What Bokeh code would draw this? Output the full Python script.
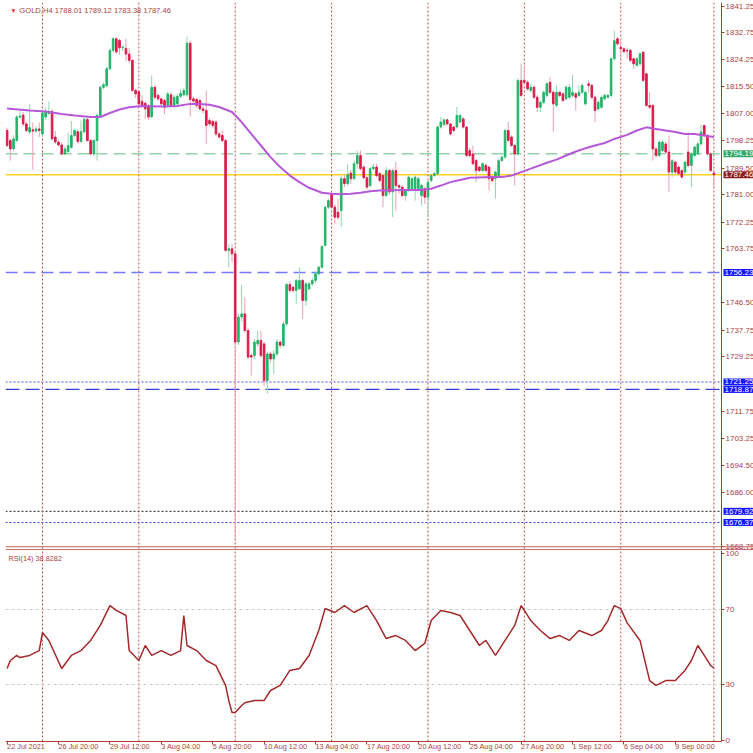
import numpy as np
from bokeh.plotting import figure
from bokeh.models import ColumnDataSource, Range1d, FixedTicker, Span, Label
from bokeh.layouts import column
from bokeh.embed import file_html
from bokeh.resources import INLINE

# ---------------- data ----------------
open_ = [1801.6, 1798.4, 1795.7, 1798.4, 1805.9, 1806.5, 1803.7, 1801.1, 1801.8, 1801.4,
         1802.1, 1800.5, 1805.9, 1807.0, 1807.7, 1799.5, 1797.9, 1797.0, 1794.1, 1794.9,
         1796.2, 1800.0, 1801.2, 1798.1, 1801.2, 1805.1, 1798.4, 1794.1, 1798.4, 1806.4,
         1815.4, 1815.9, 1821.3, 1827.2, 1830.9, 1830.4, 1828.0, 1827.8, 1826.0, 1824.0,
         1814.4, 1814.0, 1810.9, 1810.3, 1809.6, 1806.0, 1815.4, 1812.8, 1811.7, 1811.2,
         1809.6, 1813.0, 1809.6, 1810.1, 1812.5, 1813.0, 1813.0, 1829.5, 1811.7, 1811.5,
         1811.2, 1808.5, 1808.0, 1804.8, 1804.5, 1804.3, 1800.5, 1800.0, 1798.4, 1763.3,
         1763.8, 1762.2, 1734.0, 1742.0, 1743.0, 1737.7, 1729.7, 1729.7, 1733.4, 1734.5,
         1733.4, 1721.7, 1730.2, 1728.6, 1730.2, 1734.0, 1732.9, 1739.8, 1752.4, 1751.5,
         1750.5, 1751.0, 1753.7, 1747.3, 1751.0, 1752.6, 1753.7, 1755.8, 1757.9, 1764.9,
         1777.1, 1781.4, 1777.1, 1775.5, 1776.0, 1786.2, 1784.6, 1788.0, 1786.2, 1791.0,
         1793.6, 1789.9, 1786.5, 1784.0, 1789.4, 1789.9, 1787.8, 1787.2, 1780.8, 1788.8,
         1782.0, 1788.8, 1784.0, 1783.5, 1780.8, 1782.4, 1783.0, 1783.0, 1783.0, 1780.8,
         1783.0, 1780.3, 1785.6, 1787.2, 1787.8, 1802.7, 1803.5, 1805.0, 1803.7, 1802.7,
         1802.7, 1804.3, 1805.3, 1802.7, 1795.2, 1794.1, 1792.0, 1789.9, 1788.8, 1790.5,
         1789.9, 1786.7, 1786.2, 1787.2, 1792.0, 1793.1, 1801.6, 1799.5, 1796.8, 1794.1,
         1817.6, 1817.6, 1817.0, 1814.4, 1815.4, 1812.2, 1809.0, 1810.6, 1812.8, 1817.0,
         1813.8, 1809.6, 1813.8, 1813.3, 1811.7, 1812.2, 1812.8, 1813.3, 1812.8, 1813.8,
         1810.1, 1816.5, 1816.0, 1812.2, 1808.5, 1809.0, 1811.7, 1812.2, 1812.8, 1824.5,
         1830.9, 1828.2, 1827.7, 1827.2, 1827.2, 1824.5, 1822.4, 1822.9, 1826.6, 1819.7,
         1809.6, 1809.6, 1795.7, 1793.6, 1795.2, 1797.3, 1794.7, 1788.3, 1791.5, 1789.9,
         1788.8, 1788.3, 1794.7, 1790.4, 1793.6, 1794.1, 1797.3, 1803.2, 1800.0, 1794.1,
         1788.01]
high = [1802.5, 1799.0, 1800.0, 1806.5, 1808.0, 1807.5, 1804.5, 1810.0, 1804.2, 1803.0,
        1804.2, 1808.0, 1809.0, 1810.9, 1808.5, 1801.5, 1798.5, 1797.8, 1796.5, 1800.8,
        1804.6, 1802.2, 1802.0, 1804.8, 1805.8, 1805.6, 1799.0, 1799.0, 1807.0, 1816.0,
        1817.0, 1822.0, 1828.0, 1831.5, 1831.3, 1830.9, 1828.7, 1830.9, 1827.9, 1824.5,
        1815.0, 1814.5, 1812.8, 1810.8, 1810.0, 1819.2, 1816.0, 1813.5, 1812.0, 1811.8,
        1814.0, 1813.8, 1813.0, 1813.3, 1814.8, 1815.2, 1831.6, 1830.2, 1812.5, 1812.0,
        1811.5, 1809.5, 1814.4, 1805.5, 1805.0, 1804.8, 1801.2, 1801.6, 1799.0, 1765.4,
        1765.4, 1763.0, 1743.0, 1752.1, 1748.3, 1738.5, 1730.5, 1735.0, 1737.7, 1737.7,
        1734.0, 1731.0, 1731.0, 1731.5, 1735.0, 1734.5, 1740.5, 1753.0, 1753.5, 1752.0,
        1754.2, 1757.9, 1754.2, 1753.2, 1753.2, 1754.5, 1756.5, 1758.5, 1765.0, 1777.5,
        1779.8, 1781.9, 1778.0, 1779.7, 1787.0, 1787.5, 1791.0, 1789.0, 1792.0, 1795.2,
        1795.2, 1790.5, 1787.0, 1790.0, 1791.0, 1791.0, 1788.3, 1787.8, 1790.0, 1789.4,
        1789.4, 1791.5, 1784.6, 1784.0, 1783.0, 1787.2, 1786.7, 1787.2, 1786.8, 1784.6,
        1783.5, 1785.6, 1787.8, 1788.5, 1803.2, 1805.9, 1805.3, 1805.3, 1804.0, 1803.0,
        1809.1, 1807.0, 1806.0, 1803.0, 1796.0, 1796.8, 1792.5, 1790.3, 1791.5, 1791.0,
        1790.3, 1787.0, 1788.8, 1792.5, 1793.6, 1802.0, 1804.3, 1800.0, 1797.3, 1818.2,
        1822.9, 1822.4, 1817.6, 1816.5, 1816.0, 1812.8, 1811.2, 1814.4, 1817.0, 1818.6,
        1814.4, 1816.0, 1814.2, 1813.8, 1816.0, 1816.5, 1819.4, 1813.8, 1816.0, 1816.5,
        1814.4, 1817.6, 1816.5, 1812.8, 1811.2, 1812.8, 1813.3, 1813.3, 1825.0, 1833.5,
        1831.5, 1830.9, 1828.2, 1828.0, 1827.7, 1825.0, 1825.0, 1826.6, 1827.0, 1820.0,
        1813.8, 1810.0, 1796.3, 1798.4, 1798.5, 1797.9, 1800.0, 1792.5, 1792.0, 1790.4,
        1789.4, 1792.0, 1801.1, 1794.7, 1796.8, 1798.0, 1803.4, 1803.4, 1800.5, 1794.7,
        1789.12]
low = [1796.3, 1792.0, 1795.2, 1798.0, 1805.3, 1803.0, 1801.0, 1800.5, 1789.1, 1800.8,
       1799.5, 1799.8, 1805.0, 1806.5, 1798.5, 1797.3, 1796.5, 1793.8, 1793.8, 1794.2,
       1795.8, 1799.5, 1797.5, 1797.6, 1800.6, 1798.0, 1793.7, 1793.5, 1792.0, 1805.8,
       1814.8, 1815.4, 1820.8, 1826.5, 1826.0, 1825.8, 1827.0, 1823.6, 1823.0, 1814.0,
       1812.0, 1809.6, 1809.0, 1805.3, 1805.0, 1805.5, 1811.5, 1811.0, 1809.5, 1806.9,
       1809.0, 1809.0, 1809.0, 1809.6, 1812.0, 1812.5, 1812.4, 1806.0, 1810.0, 1808.8,
       1808.0, 1807.0, 1797.3, 1803.0, 1802.5, 1799.8, 1799.0, 1797.8, 1762.8, 1757.9,
       1759.5, 1671.0, 1733.0, 1740.5, 1737.0, 1728.6, 1723.3, 1728.6, 1732.5, 1729.0,
       1720.0, 1717.5, 1727.5, 1723.8, 1729.5, 1732.0, 1732.5, 1739.0, 1749.8, 1749.8,
       1746.2, 1750.5, 1741.4, 1745.5, 1750.5, 1752.0, 1753.0, 1755.0, 1757.5, 1764.5,
       1776.5, 1776.5, 1771.8, 1773.0, 1770.7, 1783.5, 1784.0, 1784.5, 1786.0, 1789.4,
       1788.8, 1786.0, 1782.8, 1783.5, 1788.8, 1786.7, 1785.0, 1777.1, 1780.3, 1781.0,
       1773.9, 1776.0, 1781.4, 1780.3, 1779.2, 1782.0, 1782.5, 1779.2, 1782.5, 1777.6,
       1778.2, 1773.9, 1785.0, 1786.8, 1787.2, 1802.2, 1803.0, 1803.2, 1800.0, 1801.0,
       1802.2, 1803.8, 1802.2, 1793.0, 1793.0, 1790.5, 1785.1, 1788.3, 1788.3, 1788.3,
       1782.4, 1785.0, 1779.8, 1786.7, 1791.5, 1792.5, 1798.0, 1796.3, 1784.0, 1793.5,
       1812.2, 1816.0, 1814.4, 1813.8, 1811.7, 1807.5, 1807.5, 1810.0, 1812.2, 1813.3,
       1801.1, 1809.0, 1812.2, 1810.6, 1811.2, 1811.7, 1812.2, 1808.0, 1812.2, 1813.3,
       1809.6, 1813.8, 1811.7, 1804.3, 1808.0, 1808.5, 1811.2, 1811.7, 1812.2, 1824.0,
       1828.8, 1824.5, 1826.3, 1824.5, 1823.5, 1821.3, 1822.0, 1822.4, 1817.0, 1809.0,
       1808.5, 1792.0, 1793.0, 1793.0, 1794.7, 1794.1, 1781.9, 1786.7, 1787.8, 1787.2,
       1786.2, 1787.8, 1789.9, 1783.5, 1793.0, 1793.6, 1796.8, 1799.5, 1793.6, 1788.3,
       1783.38]
close = [1796.8, 1795.7, 1798.9, 1805.9, 1806.2, 1803.7, 1801.6, 1802.5, 1801.4, 1802.1,
         1801.6, 1807.2, 1807.7, 1807.7, 1798.9, 1797.9, 1797.0, 1794.1, 1795.7, 1796.8,
         1800.0, 1801.6, 1798.1, 1801.2, 1805.1, 1798.4, 1794.1, 1798.4, 1806.4, 1815.4,
         1816.2, 1821.3, 1827.2, 1830.9, 1826.7, 1828.0, 1828.2, 1826.0, 1824.0, 1814.4,
         1813.3, 1810.1, 1809.6, 1808.5, 1805.9, 1815.4, 1812.2, 1811.7, 1810.1, 1809.0,
         1813.3, 1809.6, 1812.2, 1812.5, 1813.5, 1814.4, 1829.5, 1811.5, 1811.0, 1809.6,
         1808.5, 1808.0, 1803.2, 1803.7, 1803.2, 1800.5, 1799.5, 1798.4, 1763.3, 1763.8,
         1762.2, 1734.0, 1742.0, 1743.0, 1737.7, 1729.2, 1729.2, 1734.0, 1734.5, 1729.7,
         1721.7, 1730.2, 1728.6, 1730.2, 1734.0, 1733.0, 1739.8, 1752.4, 1750.5, 1750.5,
         1753.7, 1753.7, 1747.3, 1752.6, 1752.6, 1753.7, 1755.8, 1757.9, 1764.5, 1777.1,
         1779.2, 1777.1, 1773.9, 1773.9, 1786.2, 1784.6, 1787.5, 1786.2, 1791.0, 1793.6,
         1789.4, 1786.5, 1783.5, 1789.4, 1789.9, 1787.2, 1785.6, 1780.8, 1788.8, 1782.0,
         1788.8, 1784.0, 1783.5, 1780.8, 1782.4, 1786.7, 1786.2, 1786.7, 1786.2, 1784.0,
         1780.3, 1785.1, 1787.2, 1787.8, 1802.7, 1804.3, 1805.0, 1803.7, 1800.5, 1801.6,
         1806.4, 1806.4, 1802.7, 1793.6, 1793.6, 1791.0, 1788.8, 1788.8, 1791.0, 1788.8,
         1786.2, 1785.6, 1788.3, 1792.0, 1793.1, 1801.6, 1798.4, 1796.8, 1794.1, 1817.6,
         1812.8, 1817.0, 1814.9, 1815.4, 1812.2, 1809.0, 1810.6, 1813.8, 1816.5, 1813.8,
         1810.1, 1813.8, 1812.8, 1811.2, 1815.4, 1815.4, 1813.8, 1812.2, 1813.8, 1816.0,
         1813.8, 1816.0, 1812.2, 1808.0, 1810.6, 1812.2, 1812.8, 1812.8, 1824.5, 1830.3,
         1829.3, 1827.7, 1826.8, 1827.0, 1824.0, 1822.9, 1824.5, 1826.1, 1817.6, 1809.6,
         1809.0, 1795.7, 1793.6, 1797.9, 1797.9, 1794.7, 1788.3, 1791.9, 1788.3, 1787.8,
         1786.7, 1791.5, 1790.4, 1794.1, 1796.3, 1797.3, 1801.1, 1800.0, 1794.1, 1788.8,
         1787.46]

# moving average (purple) read at sample bars
ma_idx = [0, 7, 12, 17, 21, 26, 29, 32, 35, 38, 42, 48, 53, 57, 60, 63, 66, 70, 73, 76,
          79, 82, 85, 88, 91, 94, 98, 101, 104, 107, 110, 113, 116, 123, 129, 132, 135,
          138, 141, 144, 151, 154, 157, 160, 163, 168, 171, 174, 177, 180, 183, 186, 189,
          193, 196, 199, 202, 205, 208, 211, 214, 217, 220]
ma_val = [1808.6, 1808.0, 1807.7, 1806.9, 1806.4, 1805.9, 1805.9, 1807.2, 1808.3, 1809.0,
          1809.4, 1809.3, 1809.4, 1810.1, 1810.1, 1809.8, 1809.1, 1807.5, 1804.3, 1800.5,
          1796.8, 1793.1, 1789.9, 1787.2, 1785.1, 1783.3, 1781.7, 1781.4, 1781.2, 1781.4,
          1781.7, 1782.2, 1782.4, 1782.6, 1782.6, 1783.0, 1784.0, 1785.1, 1785.8, 1786.5,
          1786.7, 1786.7, 1787.2, 1788.3, 1789.4, 1791.3, 1792.3, 1793.6, 1794.9, 1795.9,
          1796.8, 1797.6, 1798.9, 1800.2, 1801.6, 1802.6, 1802.1, 1801.6, 1801.1, 1800.5,
          1800.5, 1800.0, 1799.5]

# RSI(14) read at sample bars
rsi_idx = [0, 1, 3, 4, 7, 10, 11, 13, 17, 20, 23, 26, 29, 32, 34, 37, 38, 41, 43, 45,
           48, 51, 54, 55, 56, 59, 62, 65, 68, 69, 70, 71, 73, 74, 77, 80, 82, 85, 88, 91,
           94, 97, 99, 102, 105, 108, 112, 115, 118, 121, 124, 127, 130, 132, 135, 138,
           141, 144, 147, 149, 152, 155, 158, 160, 161, 163, 166, 169, 172, 175, 178, 182,
           185, 187, 189, 191, 193, 197, 200, 202, 205, 208, 211, 213, 215, 217, 219, 220]
rsi_val = [38.5, 42.8, 45.5, 44.4, 45.5, 48.1, 57.7, 53.5, 38.5, 45.5, 48.1, 53.5, 61.5,
           72.1, 69.5, 66.8, 48.1, 42.8, 50.8, 45.5, 48.1, 45.5, 48.1, 66.8, 50.8, 48.1,
           42.8, 40.1, 29.5, 21.5, 15.1, 15.1, 18.8, 20.3, 21.5, 21.5, 26.8, 29.5, 37.5,
           38.5, 45.5, 58.8, 70.5, 68.4, 72.1, 68.4, 72.1, 64.1, 54.5, 56.1, 53.5, 48.1,
           51.9, 64.1, 69.5, 68.4, 66.8, 58.8, 50.8, 53.5, 45.5, 53.5, 61.5, 72.1, 69.5,
           64.1, 58.8, 54.5, 56.1, 53.5, 58.8, 56.1, 58.8, 64.1, 72.1, 70.5, 62.9, 53.5,
           32.1, 29.5, 32.1, 32.1, 37.5, 42.8, 50.8, 45.5, 40.1, 38.8]

time_tick_idx = [0, 16, 32, 48, 64, 80, 96, 112, 128, 144, 160, 176, 192, 208]
time_tick_labels = ["22 Jul 2021", "26 Jul 20:00", "29 Jul 12:00", "3 Aug 04:00",
                    "5 Aug 20:00", "10 Aug 12:00", "13 Aug 04:00", "17 Aug 20:00",
                    "20 Aug 12:00", "25 Aug 04:00", "27 Aug 20:00", "1 Sep 12:00",
                    "6 Sep 04:00", "9 Sep 00:00"]
week_start_idx = [11, 41, 71, 101, 131, 161, 191, 220]

price_ticks = [1841.25, 1832.75, 1824.25, 1815.50, 1807.00, 1798.25, 1789.50, 1781.00,
               1772.25, 1763.75, 1746.50, 1737.75, 1729.25, 1711.75, 1703.25, 1694.50,
               1686.00, 1668.75]
rsi_ticks = [0, 30, 70, 100]
rsi_levels = [30, 70]

level_values = [1794.19, 1787.46, 1756.23, 1721.25, 1718.87, 1679.92, 1676.37]
last_rsi = 38.8282
ohlc_text = "1788.01 1789.12 1783.38 1787.46"

# ---------------- styling ----------------
FONT = "Liberation Sans"
AXIS_RED = "#b8342e"
TEXT_RED = "#a9443e"
SEP_RED = "#b9524d"
BULL, BULL_WICK = "#24b46a", "#95d6b0"
BEAR, BEAR_WICK = "#d91e4b", "#eaa2b1"

level_styles = [  # (line colour, dash, width, box colour)
    ("#93d2aa", "12 6", 1.5, "#3aa865"),
    ("#ffd21f", "solid", 1.5, "#8c1d1d"),
    ("#7777ff", "12 6", 1.5, "#1515ff"),
    ("#4d4dff", "2 2", 1, "#1515ff"),
    ("#3b3bd6", "14 6", 1.2, "#1515ff"),
    ("#222222", "2 2", 1, "#1515ff"),
    ("#3d3dff", "2 2", 1, "#1515ff"),
]

PPB = 3.2127                       # pixels per bar
FRAME_W = 748                      # frame from x=5 to the window edge
AXIS_PX = 716                      # price axis 716 px right of the frame's left edge
x_start = -0.5
x_end = x_start + FRAME_W / PPB
AXIS_X = x_start + AXIS_PX / PPB
x_range = Range1d(x_start, x_end)

# RSI panel vertical scale: 1.875 px per RSI point, top of panel at RSI 101.47
RSI_TOP = 101.47
RSI_PANEL_H = 203
RSI_BOTTOM = RSI_TOP - RSI_PANEL_H / 1.875
RSI_AXIS_Y = -0.4

# ---------------- price panel ----------------
pa = figure(width=753, height=550, x_range=x_range, y_range=Range1d(1667.41, 1842.49),
            output_backend="svg", toolbar_location=None, x_axis_location=None,
            y_axis_location="right", min_border_left=5, min_border_right=0,
            min_border_top=2, min_border_bottom=0)
pa.grid.visible = False
pa.outline_line_color = None
pa.background_fill_color = "white"

for wi in week_start_idx:
    pa.add_layout(Span(location=wi, dimension="height", line_color=SEP_RED,
                       line_dash="2 2", line_width=1, level="underlay"))

for val, (lc, dash, lw, _) in zip(level_values, level_styles):
    pa.segment(x0=x_start, y0=val, x1=AXIS_X, y1=val, line_color=lc,
               line_dash=dash, line_width=lw, level="underlay")

o = np.array(open_); h = np.array(high); l = np.array(low); c = np.array(close)
xs = np.arange(len(c))
up = c >= o
for mask, body, wick in [(up, BULL, BULL_WICK), (~up, BEAR, BEAR_WICK)]:
    src = ColumnDataSource(dict(x=xs[mask], top=np.maximum(o, c)[mask],
                                bottom=np.minimum(o, c)[mask], hi=h[mask], lo=l[mask]))
    pa.segment(x0="x", y0="lo", x1="x", y1="hi", source=src, line_color=wick, line_width=1)
    pa.vbar(x="x", width=0.5, top="top", bottom="bottom", source=src,
            fill_color=body, line_color=body, line_width=1)

pa.line(ma_idx, ma_val, line_color="#b659d8", line_width=2)

# separator between panels
pa.add_layout(Span(location=1668.6, dimension="width", line_color="#c0605a", line_width=1))
pa.add_layout(Span(location=1667.7, dimension="width", line_color="#c0605a", line_width=1))

ya = pa.yaxis[0]
ya.fixed_location = AXIS_X
ya.ticker = FixedTicker(ticks=price_ticks)
ya.major_label_overrides = {t: f"{t:.2f}" for t in price_ticks}
ya.axis_line_color = AXIS_RED
ya.major_tick_line_color = AXIS_RED
ya.major_tick_in = 0
ya.major_tick_out = 3
ya.minor_tick_line_color = None
ya.major_label_standoff = 1
ya.major_label_text_color = TEXT_RED
ya.major_label_text_font = FONT
ya.major_label_text_font_size = "8px"

for val, (_, _, _, bc) in zip(level_values, level_styles):
    pa.add_layout(Label(x=AXIS_X, y=val, x_offset=2, text=f"{val:.2f}", text_color="white",
                        text_font=FONT, text_font_size="8px", text_baseline="middle",
                        text_align="left", background_fill_color=bc, padding=1))

pa.add_layout(Label(x=1.0, y=1840.0, text="\u25bc", text_color="#d83a30",
                    text_font_size="6.5px", text_baseline="middle", text_align="left"))
pa.add_layout(Label(x=3.8, y=1840.0, text="GOLD,H4 " + ohlc_text, text_color=TEXT_RED,
                    text_font=FONT, text_font_size="7.6px", text_baseline="middle",
                    text_align="left"))

# ---------------- RSI panel ----------------
pb = figure(width=753, height=RSI_PANEL_H, x_range=x_range,
            y_range=Range1d(RSI_BOTTOM, RSI_TOP),
            output_backend="svg", toolbar_location=None, y_axis_location="right",
            min_border_left=5, min_border_right=0, min_border_top=0, min_border_bottom=0)
pb.grid.visible = False
pb.outline_line_color = None

pb.segment(x0=week_start_idx, y0=RSI_AXIS_Y, x1=week_start_idx, y1=RSI_TOP,
           line_color=SEP_RED, line_dash="2 2", line_width=1, level="underlay")
for lv in rsi_levels:
    pb.segment(x0=x_start, y0=lv, x1=AXIS_X, y1=lv, line_color="#c9c9c9",
               line_dash="3 3", line_width=1, level="underlay")

pb.line(rsi_idx, rsi_val, line_color="#a32a2a", line_width=1.5)

pb.add_layout(Label(x=0.4, y=97.3, text=f"RSI(14) {last_rsi:.4f}", text_color=TEXT_RED,
                    text_font=FONT, text_font_size="7.3px", text_baseline="middle",
                    text_align="left"))

yb = pb.yaxis[0]
yb.fixed_location = AXIS_X
yb.bounds = (RSI_AXIS_Y, RSI_TOP)
yb.ticker = FixedTicker(ticks=rsi_ticks)
yb.axis_line_color = AXIS_RED
yb.major_tick_line_color = AXIS_RED
yb.major_tick_in = 0
yb.major_tick_out = 3
yb.minor_tick_line_color = None
yb.major_label_standoff = 1
yb.major_label_text_color = TEXT_RED
yb.major_label_text_font = FONT
yb.major_label_text_font_size = "8px"

xb = pb.xaxis[0]
xb.fixed_location = RSI_AXIS_Y
xb.ticker = FixedTicker(ticks=time_tick_idx)
xb.bounds = (x_start, AXIS_X)
xb.major_label_overrides = dict(zip(time_tick_idx, time_tick_labels))
xb.axis_line_color = AXIS_RED
xb.major_tick_line_color = AXIS_RED
xb.major_tick_in = 0
xb.major_tick_out = 3
xb.minor_tick_line_color = None
xb.major_label_standoff = 2
xb.major_label_orientation = -0.0001
xb.major_label_text_color = TEXT_RED
xb.major_label_text_font = FONT
xb.major_label_text_font_size = "7.3px"

layout = column(pa, pb, spacing=0)
open("out.html", "w").write(file_html(layout, INLINE))
